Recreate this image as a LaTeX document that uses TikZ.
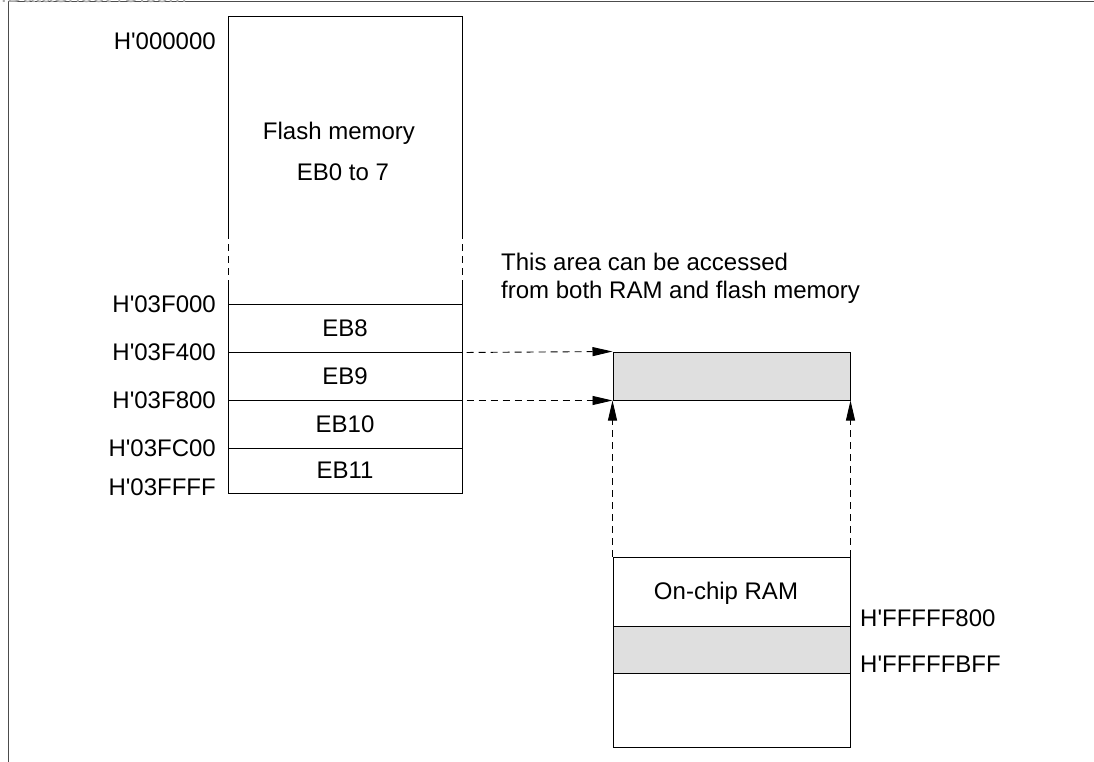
\documentclass[tikz,border=0pt]{standalone}
\usepackage{fontspec}
\setmainfont{Liberation Sans}
\usetikzlibrary{arrows.meta}
\definecolor{shade}{HTML}{DFDFDF}
\definecolor{wm}{HTML}{A8A8A8}
\newcommand{\ap}{\textquotesingle}
\tikzset{
  blk/.style={draw=black, line width=1pt, minimum width=234pt, inner sep=0pt, font=\fontsize{24}{28}\selectfont},
  addr/.style={anchor=east, inner sep=0pt, font=\fontsize{24}{28}\selectfont},
  addrr/.style={anchor=west, inner sep=0pt, font=\fontsize{24}{28}\selectfont},
  txt/.style={inner sep=0pt, font=\fontsize{24}{28}\selectfont},
  dsh/.style={dash pattern=on 7pt off 5pt, line width=0.9pt},
  arr/.style={dsh, -{Triangle[length=20pt,width=9pt]}},
}
\begin{document}
\begin{tikzpicture}[x=1pt,y=-1pt]
\useasboundingbox (0,0) rectangle (1094,762);
% frame
\draw[line width=1pt, black!70] (8,2) -- (1094,2);
\draw[line width=1pt, black!70] (8,2) -- (8,762);
\node[anchor=base east, inner sep=0pt, text=wm, font=\fontsize{22}{26}\selectfont] (wmk) at (187,3) {www.DataSheet4U.com};
% flash memory upper part
\coordinate (ftl) at (228,17);
\coordinate (ftr) at (462,17);
\coordinate (fl1) at (228,232);
\coordinate (fr1) at (462,232);
\coordinate (fl2) at (228,283);
\coordinate (fr2) at (462,283);
\coordinate (fl3) at (228,304);
\coordinate (fr3) at (462,304);
\draw[line width=1pt] (fl1) -- (ftl) -- (ftr) -- (fr1);
\draw[dsh] (fl1) -- (fl2);
\draw[dsh] (fr1) -- (fr2);
\draw[line width=1pt] (fl2) -- (fl3);
\draw[line width=1pt] (fr2) -- (fr3);
\node[txt] (flash) at (339,133) {Flash memory};
\node[txt] (eb07) at (343,172) {EB0 to 7};
% erase blocks
\node[blk, minimum height=48pt] (eb8) at (345,328) {EB8};
\node[blk, minimum height=48pt] (eb9) at (345,376) {EB9};
\node[blk, minimum height=48pt] (eb10) at (345,424) {EB10};
\node[blk, minimum height=45pt] (eb11) at (345,470.5) {EB11};
% addresses
\node[addr] (a0) at (216,41) {H\ap000000};
\node[addr] (a1) at (216,304) {H\ap03F000};
\node[addr] (a2) at (216,352) {H\ap03F400};
\node[addr] (a3) at (216,400) {H\ap03F800};
\node[addr] (a4) at (216,448) {H\ap03FC00};
\node[addr] (a5) at (216,487) {H\ap03FFFF};
% note
\node[txt, anchor=west] (n1) at (501,262) {This area can be accessed};
\node[txt, anchor=west] (n2) at (501,292) {from both RAM and flash memory};
% shared area
\node[draw=black, line width=1pt, fill=shade, minimum width=237pt, minimum height=48pt, inner sep=0pt] (sh) at (731.5,376) {};
% RAM
\node[draw=black, line width=1pt, minimum width=237pt, minimum height=190pt, inner sep=0pt] (ram) at (731.5,652) {};
\node[draw=black, line width=1pt, fill=shade, minimum width=237pt, minimum height=47pt, inner sep=0pt] (ramsh) at (731.5,649.5) {};
\node[txt] (ramt) at (726,593) {On-chip RAM};
\node[addrr] (r1) at (860,618) {H\ap FFFFF800};
\node[addrr] (r2) at (860,664) {H\ap FFFFFBFF};
% arrows
\draw[arr, shorten <=4pt] (eb8.south east) -- (sh.north west);
\draw[arr, shorten <=4pt] (eb9.south east) -- (sh.south west);
\draw[arr] (ram.north west) -- (sh.south west);
\draw[arr] (ram.north east) -- (sh.south east);
\end{tikzpicture}
\end{document}
